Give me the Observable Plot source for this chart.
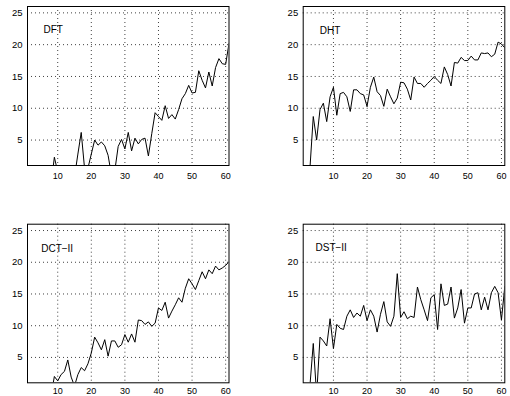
<!DOCTYPE html>
<html>
<head>
<meta charset="utf-8">
<script src="https://cdn.jsdelivr.net/npm/d3@7"></script>
<script src="https://cdn.jsdelivr.net/npm/@observablehq/plot@0.6"></script>
<style>
  html, body { margin: 0; padding: 0; background: #fff; }
  #wrap { position: relative; width: 510px; height: 396px; overflow: hidden; }
  #wrap > svg { position: absolute; }
</style>
</head>
<body>
<div id="wrap"></div>
<script>
const idx = [1,2,3,4,5,6,7,8,9,10,11,12,13,14,15,16,17,18,19,20,21,22,23,24,25,26,27,28,29,30,
  31,32,33,34,35,36,37,38,39,40,41,42,43,44,45,46,47,48,49,50,51,52,53,54,55,56,57,58,59,60,61];

const dft = [-2,-3,-2,-1,-2,-1,-2,-2,2.3,0,-1,-2,-1,-1,-0.8,2.8,6.2,0.5,0.6,2.8,
  5.0,4.2,4.7,4.1,2.6,-0.5,0.2,4.0,5.1,3.6,6.2,3.3,5.3,4.4,5.1,5.3,2.5,6.0,9.3,8.7,
  8.1,10.4,8.4,9.0,8.3,9.8,11.5,12.3,13.6,12.4,12.5,15.9,14.4,13.2,15.7,13.5,16.4,17.8,17.0,16.9,20.2];

const dht = [-3,-1,0.5,8.7,5.0,9.8,10.8,7.9,11.8,13.3,8.9,12.3,12.5,11.8,9.5,12.9,12.9,12.3,12.1,10.3,
  13.3,14.9,12.6,12.0,10.3,13.0,11.8,10.7,11.6,14.1,14.0,13.0,11.3,14.9,13.9,13.9,13.3,13.9,14.4,15.0,
  14.4,13.9,16.5,15.3,13.5,17.2,17.1,18.0,17.5,17.5,18.2,17.6,17.6,18.7,18.6,18.7,18.1,18.5,20.4,20.1,19.5];

const dctII = [-2,-1,-2,-3,-2,-1,-2,-1,2.0,1.3,2.3,2.8,4.6,1.9,0.5,2.3,3.4,2.9,4.0,5.7,
  8.2,7.3,6.2,7.8,5.2,7.6,7.6,6.6,7.0,8.6,7.4,8.7,7.4,10.9,10.8,10.2,10.6,9.9,10.4,12.8,
  12.4,13.7,11.2,12.3,13.3,14.4,13.7,15.9,17.4,16.6,15.7,17.1,18.5,17.4,18.8,18.2,19.4,18.8,19.1,19.5,20.1];

const dstII = [-3,-2,0.5,7.2,-1,8.2,7.6,6.8,11.1,6.4,10.2,9.6,9.4,11.5,12.5,11.3,12.0,11.5,13.2,10.8,
  12.5,11.5,9.0,11.8,13.8,10.6,9.9,11.5,18.2,11.3,12.2,11.1,11.5,11.3,16.1,14.1,12.5,10.8,14.4,14.9,
  9.4,16.6,13.2,13.4,16.1,11.2,12.8,15.7,10.4,12.8,12.8,15.0,15.2,12.5,14.5,12.5,15.2,16.2,15.2,10.9,16.2];

const names = ["DFT", "DHT", "DCT\u2212II", "DST\u2212II"];
const series = [dft, dht, dctII, dstII];
const xTicks = [10, 20, 30, 40, 50, 60];
const yTicks = [5, 10, 15, 20, 25];

const panels = [
  {left: 0,   top: 0,   ml: 27,   mr: 26.5, mt: 6,    mb: 33,   dx: 16,   dy: 23.5, xp: 7},
  {left: 255, top: 0,   ml: 47.7, mr: 5.7,  mt: 6,    mb: 33,   dx: 16.6, dy: 24,   xp: 7},
  {left: 0,   top: 198, ml: 27,   mr: 26.5, mt: 25.7, mb: 13.7, dx: 13.7, dy: 25,   xp: 4.5},
  {left: 255, top: 198, ml: 47.7, mr: 5.7,  mt: 25.7, mb: 13.7, dx: 12.3, dy: 23.6, xp: 4.5}
];

const wrap = document.getElementById("wrap");
const font = "'Liberation Sans', Arial, Helvetica, sans-serif";

panels.forEach((p, i) => {
  const data = idx.map((x, j) => ({x, y: series[i][j]}));
  const chart = Plot.plot({
    width: 255,
    height: 198,
    marginLeft: p.ml,
    marginRight: p.mr,
    marginTop: p.mt,
    marginBottom: p.mb,
    style: {fontFamily: font, fontSize: "9px", color: "#000", background: "transparent"},
    x: {domain: [1, 61]},
    y: {domain: [1, 26]},
    marks: [
      Plot.gridX(xTicks, {stroke: "#000", strokeOpacity: 0.75, strokeDasharray: "1,3"}),
      Plot.gridY(yTicks, {stroke: "#000", strokeOpacity: 0.75, strokeDasharray: "1,3"}),
      Plot.axisX(xTicks, {tickSize: 0, tickPadding: p.xp, fontSize: 9, label: null}),
      Plot.axisY(yTicks, {tickSize: 0, tickPadding: 5, fontSize: 9.5, label: null}),
      Plot.line(data, {x: "x", y: "y", stroke: "#000", strokeWidth: 1, clip: true}),
      Plot.frame({stroke: "#000", strokeWidth: 1}),
      Plot.text([names[i]], {frameAnchor: "top-left", dx: p.dx, dy: p.dy, textAnchor: "start",
        lineAnchor: "middle", fontSize: 10, fill: "#000"})
    ]
  });
  chart.style.left = p.left + "px";
  chart.style.top = p.top + "px";
  wrap.appendChild(chart);
});
</script>
</body>
</html>
